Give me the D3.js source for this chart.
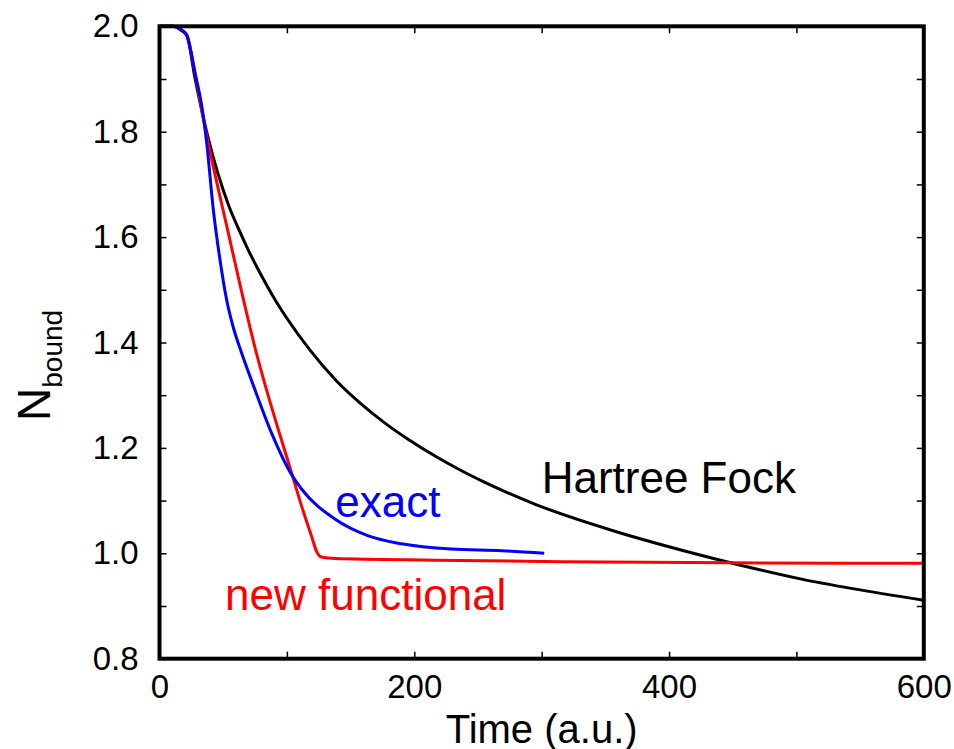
<!DOCTYPE html>
<html lang="en">
<head>
    <meta charset="UTF-8">
    <title>N bound vs time</title>
    <style type="text/css">
        html, body { padding:0; margin:0; background:#fff; }
        text { font-family: 'Liberation Sans', Arial, sans-serif; }
    </style>
</head>
<body>
<script src="https://d3js.org/d3.v7.min.js"></script>
<script type="text/javascript">
    // data (time in a.u., N_bound)
    var hfTime  = [0, 10, 17, 21.4, 28, 38, 54, 62, 70, 80, 90, 100, 118, 139, 158, 177, 196, 216, 236, 255, 295, 360, 413, 457, 504, 544, 600];
    var hfValue = [2.0, 2.0, 1.993, 1.983, 1.9, 1.79, 1.662, 1.616, 1.574, 1.527, 1.484, 1.446, 1.386, 1.327, 1.284, 1.247, 1.215, 1.185, 1.158, 1.135, 1.093, 1.040, 1.004, 0.977, 0.951, 0.933, 0.911];

    var newTime  = [0, 10, 17, 21.4, 28, 34, 54, 75, 104, 111.5, 119, 124, 127, 138, 216, 316, 450, 600];
    var newValue = [2.0, 2.0, 1.993, 1.983, 1.91, 1.83, 1.608, 1.39, 1.15, 1.09, 1.035, 1.0, 0.993, 0.99, 0.987, 0.984, 0.982, 0.981];

    var exactTime  = [0, 10, 17, 21.4, 28, 33.1, 37, 42.3, 47, 52.7, 58, 63.2, 75, 88, 104, 111.5, 137.7, 164, 190, 229, 269, 302];
    var exactValue = [2.0, 2.0, 1.993, 1.983, 1.91, 1.85, 1.78, 1.651, 1.565, 1.481, 1.428, 1.389, 1.31, 1.228, 1.148, 1.122, 1.065, 1.033, 1.018, 1.008, 1.005, 1.0];

    var xTicks = [0, 100, 200, 300, 400, 500, 600];
    var xTickLabels = ['0', '', '200', '', '400', '', '600'];
    var yTicks = [0.8, 0.9, 1.0, 1.1, 1.2, 1.3, 1.4, 1.5, 1.6, 1.7, 1.8, 1.9, 2.0];
    var yTickLabels = ['0.8', '', '1.0', '', '1.2', '', '1.4', '', '1.6', '', '1.8', '', '2.0'];

    var width = 954,
        height = 749,
        marginLeft = 159.5, marginTop = 26.3,
        plotW = 764.3, plotH = 632.4,
        svg, xScale, yScale;

    svg = d3.select('body').append('svg')
            .attr('width', width)
            .attr('height', height);

    xScale = d3.scaleLinear().domain([0, 600]).range([0, plotW]);
    yScale = d3.scaleLinear().domain([0.8, 2.0]).range([plotH, 0]);

    var g = svg.append('g').attr('transform', 'translate(' + marginLeft + ',' + marginTop + ')');

    function zip(ts, vs) {
        return ts.map(function(t, i) { return {x: t, y: vs[i]}; });
    }

    var series = [
        {color: '#000000', data: zip(hfTime, hfValue)},
        {color: '#ff0000', data: zip(newTime, newValue)},
        {color: '#0000ff', data: zip(exactTime, exactValue)}
    ];

    var line = d3.line()
                 .x(function(d) { return xScale(d.x); })
                 .y(function(d) { return yScale(d.y); })
                 .curve(d3.curveMonotoneX);

    g.selectAll('path.curve')
        .data(series)
        .enter()
        .append('path')
        .attr('class', 'curve')
        .attr('fill', 'none')
        .attr('stroke', function(d) { return d.color; })
        .attr('stroke-width', 3)
        .attr('stroke-linejoin', 'round')
        .attr('d', function(d) { return line(d.data); });

    // axes, ticks pointing inward on all four sides
    var fmtX = function(d, i) { return xTickLabels[i]; };
    var fmtY = function(d, i) { return yTickLabels[i]; };

    g.append('g')
        .attr('class', 'x-axis')
        .attr('transform', 'translate(0,' + plotH + ')')
        .call(d3.axisBottom(xScale).tickValues(xTicks).tickFormat(fmtX).tickSize(-7).tickPadding(16));
    g.append('g')
        .call(d3.axisTop(xScale).tickValues(xTicks).tickFormat('').tickSize(-7));
    g.append('g')
        .attr('class', 'y-axis')
        .call(d3.axisLeft(yScale).tickValues(yTicks).tickFormat(fmtY).tickSize(-7).tickPadding(21));
    g.append('g')
        .attr('transform', 'translate(' + plotW + ',0)')
        .call(d3.axisRight(yScale).tickValues(yTicks).tickFormat('').tickSize(-7));

    g.selectAll('.domain').remove();
    g.selectAll('.tick line').attr('stroke', '#000').attr('stroke-width', 1.5);
    g.selectAll('.tick text')
        .attr('fill', '#000')
        .style('font-size', '33px')
        .style('font-family', "'Liberation Sans', Arial, sans-serif");

    g.append('rect')
        .attr('x', 0).attr('y', 0)
        .attr('width', plotW).attr('height', plotH)
        .attr('fill', 'none')
        .attr('stroke', '#000')
        .attr('stroke-width', 4);

    // in-plot labels
    g.append('text')
        .attr('x', xScale(300)).attr('y', 493 - marginTop)
        .attr('font-size', 44).attr('fill', '#000')
        .text('Hartree Fock');
    g.append('text')
        .attr('x', xScale(138)).attr('y', 517 - marginTop)
        .attr('font-size', 44).attr('fill', '#0000ff')
        .text('exact');
    g.append('text')
        .attr('x', xScale(51.5)).attr('y', 610.5 - marginTop)
        .attr('font-size', 44).attr('fill', '#ff0000')
        .text('new functional');

    // axis titles
    svg.append('text')
        .attr('x', marginLeft + plotW / 2).attr('y', 743)
        .attr('text-anchor', 'middle')
        .attr('font-size', 40)
        .text('Time (a.u.)');

    var yl = svg.append('text')
        .attr('transform', 'translate(50,421) rotate(-90)')
        .attr('font-size', 46);
    yl.append('tspan').text('N');
    yl.append('tspan').attr('dy', 12).attr('font-size', 28).text('bound');
</script>
</body>
</html>
